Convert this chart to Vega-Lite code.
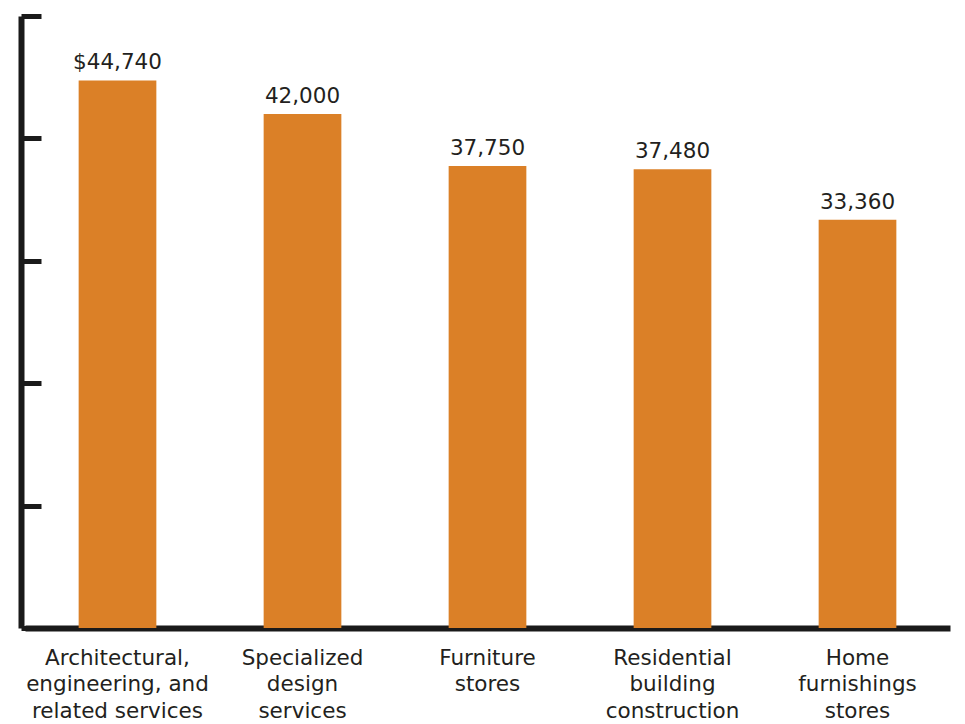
{
  "$schema": "https://vega.github.io/schema/vega-lite/v6.json",
  "autosize": "none",
  "width": 925,
  "height": 612,
  "padding": {"left": 25, "top": 16, "right": 15, "bottom": 96},
  "background": "white",
  "config": {"view": {"stroke": null}, "font": "DejaVu Sans"},
  "data": {"values": [
    {"category": "Architectural,|engineering, and|related services", "wage": 44740, "label": "$44,740"},
    {"category": "Specialized|design|services", "wage": 42000, "label": "42,000"},
    {"category": "Furniture|stores", "wage": 37750, "label": "37,750"},
    {"category": "Residential|building|construction", "wage": 37480, "label": "37,480"},
    {"category": "Home|furnishings|stores", "wage": 33360, "label": "33,360"}
  ]},
  "encoding": {
    "x": {"field": "category", "type": "nominal", "sort": null,
      "scale": {"paddingInner": 0.58, "paddingOuter": 0.29},
      "axis": {"title": null, "labelAngle": 0, "labelExpr": "split(datum.label, '|')", "labelLimit": 400, "labelOverlap": false,
        "labelFont": "DejaVu Sans", "labelFontSize": 21.5, "labelColor": "#231f20", "labelLineHeight": 26.5,
        "labelPadding": 19, "labelBaseline": "top", "ticks": false, "domainColor": "#1a1a1a", "domainWidth": 6}},
    "y": {"field": "wage", "type": "quantitative", "scale": {"domain": [0, 50000], "nice": false},
      "axis": {"title": null, "labels": false, "grid": false, "labelOverlap": false, "values": [0, 10000, 20000, 30000, 40000, 50000],
        "domainColor": "#1a1a1a", "domainWidth": 6, "offset": 4, "tickColor": "#1a1a1a", "tickWidth": 5, "tickSize": -20}}
  },
  "layer": [
    {"mark": {"type": "bar", "color": "#DB8027"}},
    {"mark": {"type": "text", "baseline": "bottom", "dy": -6, "fontSize": 21.5, "font": "DejaVu Sans", "color": "#231f20"},
     "encoding": {"text": {"field": "label"}}}
  ]
}
